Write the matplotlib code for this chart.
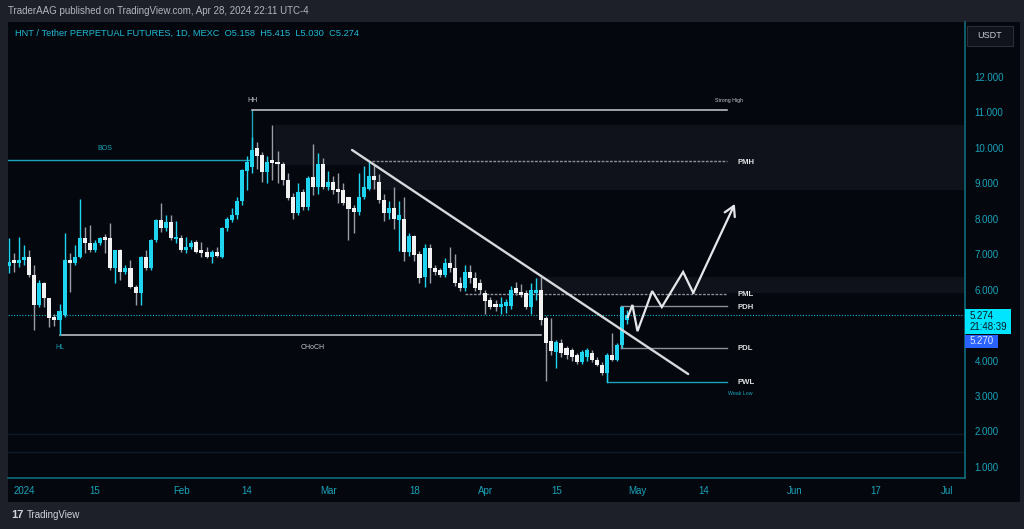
import numpy as np
import pandas as pd
import matplotlib
matplotlib.use("Agg")
import matplotlib.pyplot as plt
from matplotlib.patches import Rectangle
import matplotlib.transforms as mtrans

# ---------------- data ----------------
start_date = "2023-12-29"
opens = [6.68, 6.84, 6.76, 6.84, 6.93, 6.41, 5.57, 6.19, 5.77, 5.23,
         5.15, 5.29, 6.84, 6.76, 6.93, 7.46, 7.32, 7.12, 7.32, 7.49,
         7.46, 6.61, 7.12, 6.50, 6.61, 6.08, 5.91, 6.93, 6.61, 7.40,
         7.97, 7.74, 7.91, 7.43, 7.46, 7.12, 7.20, 7.35, 7.12, 7.07,
         6.93, 7.07, 6.93, 7.74, 7.97, 8.10, 8.50, 9.35, 9.45, 10.00,
         9.80, 9.32, 9.66, 9.60, 9.55, 9.10, 8.62, 8.17, 8.76, 8.33,
         9.18, 8.90, 9.55, 8.90, 9.05, 8.85, 8.81, 8.60, 8.30, 8.20,
         8.60, 8.85, 9.20, 9.05, 8.53, 8.17, 8.30, 7.97, 8.00, 7.05,
         7.50, 7.00, 6.35, 7.18, 6.61, 6.56, 6.41, 6.75, 6.61, 6.20,
         6.05, 6.50, 6.33, 6.20, 5.91, 5.71, 5.60, 5.50, 5.55, 5.55,
         6.05, 5.93, 5.90, 5.50, 5.90, 6.00, 5.20, 4.55, 4.25, 4.50,
         4.35, 4.30, 4.16, 3.96, 4.10, 4.20, 4.02, 3.88, 3.65, 4.16,
         4.02, 4.44, 5.158]
highs = [7.46, 7.04, 7.49, 7.26, 7.12, 6.70, 6.27, 6.22, 5.77, 5.30,
         5.60, 7.60, 7.04, 7.26, 8.56, 7.77, 7.82, 7.40, 7.49, 7.57,
         7.88, 7.12, 7.15, 6.70, 6.84, 6.13, 6.95, 7.12, 7.43, 8.00,
         8.44, 8.10, 8.10, 7.94, 7.54, 7.49, 7.40, 7.40, 7.35, 7.20,
         7.12, 7.20, 7.77, 8.05, 8.30, 8.60, 9.40, 9.77, 10.30, 10.17,
         9.88, 9.77, 10.65, 9.90, 9.60, 9.30, 8.73, 9.00, 8.85, 9.20,
         10.10, 9.85, 9.70, 9.35, 9.20, 9.30, 9.00, 8.60, 8.40, 9.30,
         9.50, 9.63, 9.55, 9.25, 8.70, 8.50, 8.90, 8.50, 8.60, 7.60,
         7.55, 7.10, 7.30, 7.30, 6.70, 6.60, 6.90, 7.20, 7.00, 6.35,
         6.70, 6.70, 6.50, 6.30, 6.00, 5.80, 5.70, 5.78, 5.75, 6.10,
         6.22, 6.15, 6.00, 6.20, 6.33, 6.36, 5.25, 5.20, 4.58, 4.60,
         4.40, 4.35, 4.20, 4.30, 4.35, 4.30, 4.10, 3.95, 4.20, 4.79,
         4.50, 5.54, 5.415]
lows = [6.47, 6.50, 6.63, 6.70, 6.36, 4.86, 5.51, 5.51, 4.95, 4.98,
        4.74, 5.23, 5.94, 6.70, 6.90, 7.04, 7.07, 7.07, 7.26, 7.04,
        6.56, 6.19, 6.27, 6.45, 6.05, 5.57, 5.57, 6.56, 6.56, 7.35,
        7.63, 7.65, 7.40, 7.32, 7.07, 7.04, 7.15, 7.04, 6.93, 6.90,
        6.75, 6.92, 6.90, 7.65, 7.90, 8.00, 8.40, 8.81, 9.30, 9.41,
        9.04, 9.00, 9.10, 9.00, 8.95, 8.53, 7.99, 8.10, 8.25, 8.25,
        8.67, 8.70, 8.85, 8.80, 8.70, 8.45, 8.40, 7.40, 7.60, 8.10,
        8.55, 8.80, 8.85, 8.45, 7.95, 8.00, 7.70, 7.10, 6.80, 6.95,
        6.80, 6.20, 6.08, 6.20, 6.40, 6.35, 6.35, 6.50, 6.10, 5.95,
        5.95, 6.20, 5.95, 5.88, 5.30, 5.45, 5.40, 5.30, 5.35, 5.45,
        5.85, 5.78, 5.45, 5.30, 5.70, 5.00, 3.42, 4.15, 3.79, 4.10,
        4.05, 4.00, 3.90, 3.90, 4.00, 3.95, 3.85, 3.60, 3.40, 3.98,
        3.98, 4.36, 5.030]
closes = [6.79, 6.76, 6.83, 6.93, 6.41, 5.57, 6.19, 5.77, 5.20, 5.15,
          5.40, 6.84, 6.76, 6.93, 7.46, 7.32, 7.12, 7.32, 7.46, 7.40,
          6.61, 7.12, 6.50, 6.61, 6.08, 5.91, 6.93, 6.61, 7.40, 7.97,
          7.74, 7.91, 7.46, 7.49, 7.12, 7.20, 7.32, 7.07, 7.04, 6.93,
          7.07, 6.95, 7.74, 8.00, 8.10, 8.50, 9.38, 9.60, 9.94, 9.77,
          9.32, 9.60, 9.57, 9.55, 9.10, 8.59, 8.17, 8.76, 8.33, 9.15,
          8.90, 9.55, 8.90, 9.05, 8.81, 8.75, 8.45, 8.28, 8.20, 8.60,
          8.90, 9.20, 9.10, 8.53, 8.17, 8.30, 8.00, 8.10, 7.05, 7.50,
          6.98, 6.33, 7.18, 6.61, 6.50, 6.41, 6.75, 6.61, 6.20, 6.05,
          6.50, 6.33, 6.05, 5.99, 5.68, 5.52, 5.50, 5.60, 5.65, 6.00,
          5.90, 5.85, 5.50, 6.00, 6.00, 5.15, 4.50, 4.27, 4.52, 4.22,
          4.16, 4.10, 3.96, 4.24, 4.30, 4.02, 3.88, 3.65, 4.16, 4.02,
          4.44, 5.52, 5.274]

ytick_values = [1, 2, 3, 4, 5, 6, 7, 8, 9, 10, 11, 12]
ytick_hidden = [5]
xtick_dates = ["2024-01-01", "2024-01-15", "2024-02-01", "2024-02-14", "2024-03-01",
               "2024-03-18", "2024-04-01", "2024-04-15", "2024-05-01", "2024-05-14",
               "2024-06-01", "2024-06-17", "2024-07-01"]
xtick_labels = ["2024", "15", "Feb", "14", "Mar", "18", "Apr", "15", "May", "14",
                "Jun", "17", "Jul"]

strong_high = 11.07
bos_level = 9.66
pmh_level = 9.63
pml_level = 5.88
pdh_level = 5.54
pdl_level = 4.36
pwl_level = 3.40
choch_level = 4.72
hl_mark_top = 5.30
pwl_mark_top = 3.65
last_price = 5.274
prev_close_label = "5.270"
countdown = "21:48:39"

trend_days = [64.7, 131.0]
trend_prices = [9.94, 3.62]
proj_days = [119.1, 120.0, 121.0, 123.9, 125.8, 130.0, 132.0, 140.2]
proj_prices = [5.23, 5.57, 4.83, 5.96, 5.51, 6.50, 5.91, 8.42]

# ---------------- helpers ----------------
base = pd.Timestamp("2024-01-01")
dates = pd.date_range(start_date, periods=len(closes), freq="D")
xd = np.asarray((dates - base).days, dtype=float)
def day(s):
    return float((pd.Timestamp(s) - base).days)

o = np.array(opens); h = np.array(highs); l = np.array(lows); c = np.array(closes)
up = c >= o

W, H = 1024, 529
def fx(px): return px / W
def fy(py): return 1 - py / H

BG = "#05070f"
FRAME = "#1e2029"
CYAN = "#1fd4ee"
AXC = "#1aa3b8"
GREY = "#8d9099"
LINEW = "#c9cbd1"

plt.rcParams["font.family"] = ["Liberation Sans", "DejaVu Sans"]
fig = plt.figure(figsize=(W / 100, H / 100), dpi=100, facecolor=FRAME)

# dark chart panel
fig.add_artist(Rectangle((fx(8), fy(502)), fx(1020) - fx(8), fy(22) - fy(502),
                         transform=fig.transFigure, facecolor=BG, edgecolor="none", zorder=0))

ax = fig.add_axes([fx(8), fy(478), fx(965) - fx(8), fy(22) - fy(478)])
ax.set_facecolor(BG)
ax.set_xlim(-3.16, 185.6)
ax.set_ylim(0.688, 13.55)

for s in ["left", "top"]:
    ax.spines[s].set_visible(False)
for s in ["right", "bottom"]:
    ax.spines[s].set_color("#0f6b7c")
    ax.spines[s].set_linewidth(1.2)

# faint horizontal guide lines near the bottom
for yv in [1.94, 1.43]:
    ax.axhline(yv, color="#0b1c26", lw=1.0, zorder=0.3)

# shaded zones
zone_color = "#10121b"
ax.add_patch(Rectangle((49.5, 9.52), 200, 10.65 - 9.52, facecolor=zone_color, edgecolor="none", zorder=0.5))
ax.add_patch(Rectangle((68.0, 8.81), 200, 9.52 - 8.81, facecolor=zone_color, edgecolor="none", zorder=0.5))
ax.add_patch(Rectangle((101.0, 5.91), 200, 6.36 - 5.91, facecolor=zone_color, edgecolor="none", zorder=0.5))

line_end = day("2024-05-19") - 0.3

# structure lines
ax.plot([xd[0] - 1, day("2024-02-15")], [bos_level, bos_level], color=AXC, lw=1.0, zorder=2)
ax.plot([day("2024-02-15"), day("2024-02-15")], [bos_level, strong_high], color=AXC, lw=1.0, zorder=2)
ax.plot([day("2024-02-15"), line_end], [strong_high, strong_high], color=LINEW, lw=1.1, zorder=2)
ax.plot([day("2024-03-10") - 0.3, line_end], [pmh_level, pmh_level], color=GREY, lw=1.0, ls=(0, (2, 1)), zorder=2)
ax.plot([day("2024-03-28"), line_end], [pml_level, pml_level], color=GREY, lw=1.0, ls=(0, (2, 1)), zorder=2)
ax.plot([day("2024-04-28") - 0.3, line_end], [pdh_level, pdh_level], color=GREY, lw=1.0, zorder=2)
ax.plot([day("2024-04-28") - 0.3, line_end], [pdl_level, pdl_level], color=GREY, lw=1.0, zorder=2)
ax.plot([day("2024-04-28") - 0.3] * 2, [pdl_level, pdh_level], color=GREY, lw=1.0, zorder=2)
ax.plot([day("2024-04-25"), line_end], [pwl_level, pwl_level], color=AXC, lw=1.0, zorder=2)
ax.plot([day("2024-04-25")] * 2, [pwl_level, pwl_mark_top], color=AXC, lw=1.0, zorder=2)
ax.plot([day("2024-01-08"), day("2024-04-12")], [choch_level, choch_level], color=LINEW, lw=1.1, zorder=2)
ax.plot([day("2024-01-08")] * 2, [choch_level, hl_mark_top], color=AXC, lw=1.0, zorder=2)

# current price dotted line
ax.axhline(last_price, color="#16b8d0", lw=0.8, ls=(0, (1, 1.5)), zorder=1.5)

# candles
wick_colors = np.where(up, CYAN, "#9a9da6")
body_colors = np.where(up, CYAN, "#f2f2f2")
ax.vlines(xd, l, h, colors=wick_colors, lw=1.0, zorder=3)
heights = np.where(np.abs(c - o) < 0.04, 0.04, np.abs(c - o))
ax.bar(xd, heights, bottom=np.minimum(o, c), width=0.8, color=body_colors,
       edgecolor="none", zorder=3.2)

# trendline and projection
ax.plot(trend_days, trend_prices, color="#d8d9dd", lw=1.7, solid_capstyle="round", zorder=4)
ax.plot(proj_days[:-1], proj_prices[:-1], color="#e6e7ea", lw=1.6, zorder=4,
        solid_joinstyle="miter")
ax.annotate("", xy=(proj_days[-1], proj_prices[-1]), xytext=(proj_days[-2], proj_prices[-2]),
            arrowprops=dict(arrowstyle="->,head_length=0.7,head_width=0.4",
                            color="#e6e7ea", lw=1.6, shrinkA=0, shrinkB=0), zorder=4)

# labels on the chart
small = dict(fontsize=5, zorder=5)
ax.text(day("2024-02-15"), 11.33, "HH", color=LINEW, ha="center", va="center", **small)
ax.text(139.0, 11.33, "Strong High", color=LINEW, ha="center", va="center", fontsize=3.8, zorder=5)
ax.text(16.0, 9.97, "BOS", color=AXC, ha="center", va="center", **small)
ax.text(7.1, 4.38, "HL", color=AXC, ha="center", va="center", **small)
ax.text(57.0, 4.38, "CHoCH", color=LINEW, ha="center", va="center", **small)
lab_x = 140.8
for txt, lv in [("PMH", pmh_level), ("PML", pml_level), ("PDH", pdh_level),
                ("PDL", pdl_level), ("PWL", pwl_level)]:
    ax.text(lab_x, lv - 0.03, txt, color="#e0e1e4", ha="left", va="center",
            fontsize=5.6, fontweight="bold", zorder=5)
ax.text(141.3, 3.06, "Weak Low", color=AXC, ha="center", va="center", fontsize=3.8, zorder=5)

# axes ticks
ax.yaxis.tick_right()
ax.set_yticks(ytick_values)
ax.set_yticklabels(["" if v in ytick_hidden else f"{v:.3f}" for v in ytick_values])
ax.tick_params(axis="y", length=0, pad=7, labelsize=7, labelcolor=AXC)
ax.set_xticks([day(d) for d in xtick_dates])
ax.set_xticklabels(xtick_labels)
ax.tick_params(axis="x", length=0, pad=6, labelsize=7, labelcolor=AXC)

# price labels on the axis
fig.add_artist(Rectangle((fx(965), fy(334)), fx(1011) - fx(965), fy(309) - fy(334),
                         transform=fig.transFigure, facecolor="#00e5ff", edgecolor="none", zorder=6))
fig.text(fx(970), fy(316), f"{last_price:.3f}", color="#0b1a22", fontsize=7, va="center", ha="left", zorder=7)
fig.text(fx(970), fy(327), countdown, color="#0b1a22", fontsize=7, va="center", ha="left", zorder=7)
fig.add_artist(Rectangle((fx(965), fy(348)), fx(998) - fx(965), fy(335) - fy(348),
                         transform=fig.transFigure, facecolor="#2962ff", edgecolor="none", zorder=6))
fig.text(fx(970), fy(341.5), prev_close_label, color="#dfe6ff", fontsize=7, va="center", ha="left", zorder=7)

# USDT button
fig.add_artist(Rectangle((fx(967), fy(46)), fx(1013) - fx(967), fy(26) - fy(46),
                         transform=fig.transFigure, facecolor="#10131b", edgecolor="#2a2e39",
                         lw=0.8, zorder=6))
fig.text(fx(990), fy(36), "USDT", color="#c9ccd3", fontsize=6.5, ha="center", va="center", zorder=7)

# header
fig.text(fx(8), fy(11), "TraderAAG published on TradingView.com, Apr 28, 2024 22:11 UTC-4",
         color="#b2b5be", fontsize=7, ha="left", va="center")
fig.text(fx(15), fy(33),
         "HNT / Tether PERPETUAL FUTURES, 1D, MEXC  O5.158  H5.415  L5.030  C5.274",
         color="#1fb8d0", fontsize=6.7, ha="left", va="center")

# footer
fig.text(fx(11), fy(515), "17", color="#d1d4dc", fontsize=8, fontweight="bold", ha="left", va="center")
fig.text(fx(27), fy(515), "TradingView", color="#d1d4dc", fontsize=7, ha="left", va="center")

fig.savefig("out.png", dpi=100, facecolor=FRAME)
